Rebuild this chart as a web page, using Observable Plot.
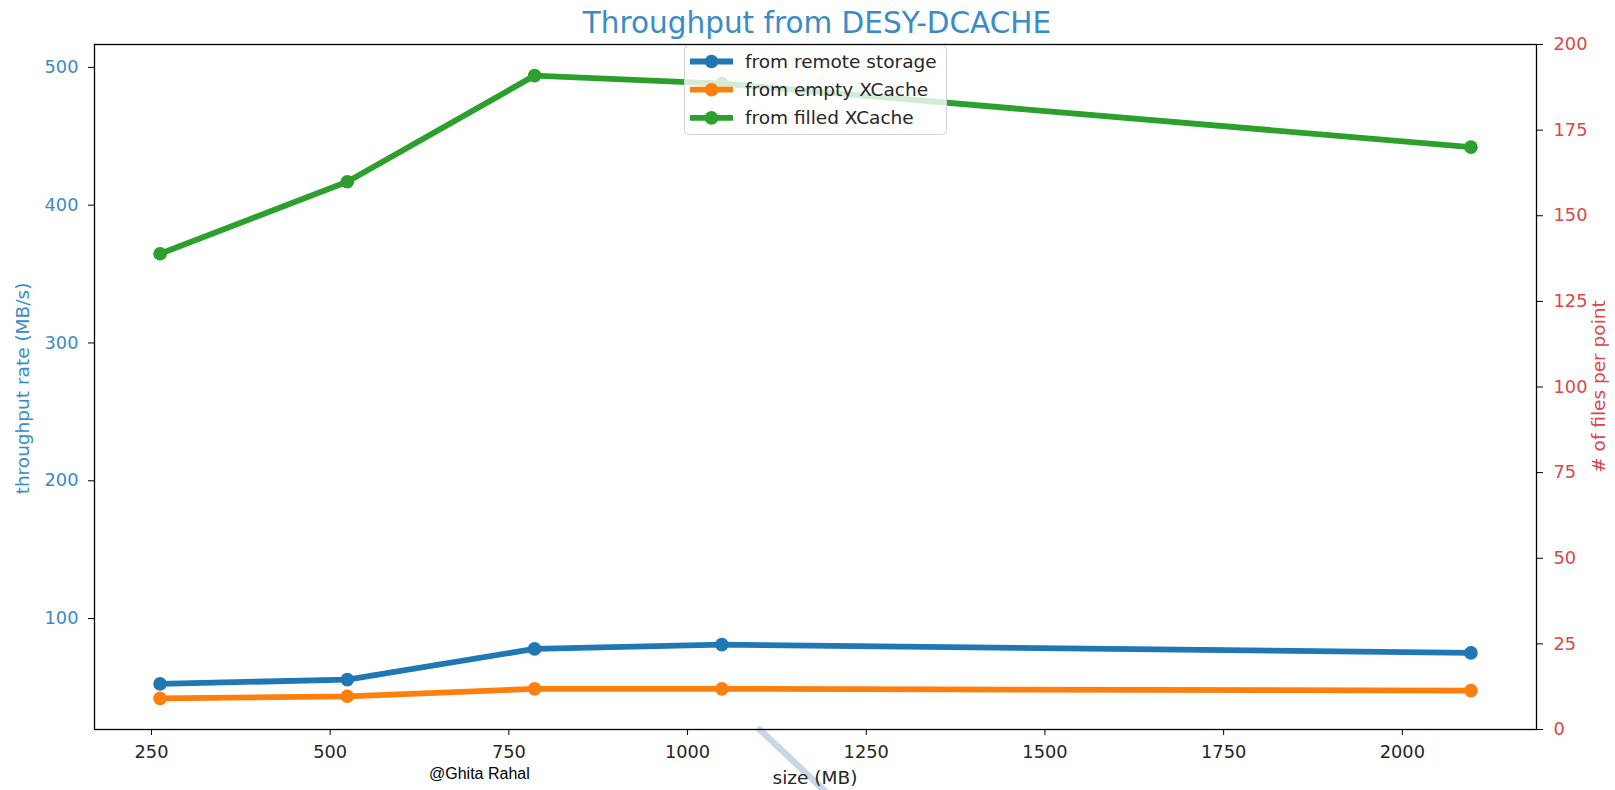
<!DOCTYPE html>
<html><head><meta charset="utf-8">
<script src="https://cdn.jsdelivr.net/npm/d3@7"></script>
<script src="https://cdn.jsdelivr.net/npm/@observablehq/plot@0.6"></script>
<style>body{margin:0;background:#fff;overflow:hidden;}</style>
</head><body><div id="chart"></div>
<script>
// ---- data ----
const sizes = [262, 524, 786, 1048, 2096];
const remote = [52.6, 55.7, 78.0, 81.1, 75.1];
const emptyCache = [42.1, 43.6, 49.0, 49.0, 47.7];
const filledCache = [364.7, 417.0, 494.0, 488.2, 442.1];
const seriesNames = ["from remote storage", "from empty XCache", "from filled XCache"];
const seriesColors = ["#1f77b4", "#ff7f0e", "#2ca02c"];
const xTicks = [250, 500, 750, 1000, 1250, 1500, 1750, 2000];
const yTicks = [100, 200, 300, 400, 500];
const rightTicks = [0, 25, 50, 75, 100, 125, 150, 175, 200];
const rightMax = 200;
const artifactX = [1101, 1198];
const artifactY = [19.5, -28];

const titleText = "Throughput from DESY-DCACHE";
const xLabel = "size (MB)";
const yLabel = "throughput rate (MB/s)";
const y2Label = "# of files per point";
const credit = "@Ghita Rahal";

const blue = "#3a8bc6", red = "#e0454a";

// ---- build ----
const values = [remote, emptyCache, filledCache];
const rows = seriesNames.flatMap((name, i) => sizes.map((s, j) => ({size: s, value: values[i][j], series: name})));
const all = values.flat();
const lo = d3.min(all), hi = d3.max(all), pad = (hi - lo) * 0.05;
const y0 = lo - pad, y1 = hi + pad;
const xpad = (d3.max(sizes) - d3.min(sizes)) * 0.05;
const x0 = d3.min(sizes) - xpad, x1 = d3.max(sizes) + xpad;
const rightMapped = rightTicks.map(v => y0 + v / rightMax * (y1 - y0));
const artifact = artifactX.map((x, i) => ({x, y: artifactY[i]}));

const W = 1615, H = 790, mL = 94, mR = 79, mT = 44, mB = 61;

const marks = [
  Plot.line(artifact, {x: "x", y: "y", stroke: "#c9d6e9", strokeWidth: 6.5, clip: false})
];
seriesNames.forEach((name, i) => {
  const d = rows.filter(r => r.series === name);
  marks.push(Plot.line(d, {x: "size", y: "value", stroke: seriesColors[i], strokeWidth: 5.8, strokeLinejoin: "round"}));
  marks.push(Plot.dot(d, {x: "size", y: "value", fill: seriesColors[i], r: 6.8}));
});
marks.push(
  Plot.frame({stroke: "black", strokeWidth: 1.3}),
  Plot.axisX(xTicks, {anchor: "bottom", tickSize: 6, tickPadding: 10, fill: "#262626", stroke: "black", label: null,
    tickFormat: d => String(d)}),
  Plot.axisY(yTicks, {anchor: "left", tickSize: 6, tickPadding: 10, fill: blue, stroke: "black", label: null,
    tickFormat: d => String(d)}),
  Plot.axisY(rightMapped, {anchor: "right", tickSize: 6, tickPadding: 11, fill: red, stroke: "black", label: null,
    tickFormat: v => String(Math.round((v - y0) / (y1 - y0) * rightMax))})
);

const chart = Plot.plot({
  width: W, height: H,
  marginLeft: mL, marginRight: mR, marginTop: mT, marginBottom: mB,
  x: {domain: [x0, x1], axis: null},
  y: {domain: [y0, y1], axis: null},
  style: {fontFamily: "'DejaVu Sans', sans-serif", fontSize: "17.8px", background: "white", overflow: "visible"},
  marks
});
document.getElementById("chart").appendChild(chart);

// ---- texts and legend ----
const svg = d3.select(chart);
svg.append("text").attr("x", 817).attr("y", 33).attr("text-anchor", "middle")
  .attr("fill", blue).style("font-size", "29.5px").text(titleText);
svg.append("text").attr("x", 815).attr("y", 784).attr("text-anchor", "middle")
  .attr("fill", "#262626").style("font-size", "18.5px").text(xLabel);
svg.append("text").attr("transform", `translate(29,${(mT + H - mB) / 2 + 2}) rotate(-90)`).attr("text-anchor", "middle")
  .attr("fill", blue).style("font-size", "18.5px").text(yLabel);
svg.append("text").attr("transform", `translate(1605,${(mT + H - mB) / 2}) rotate(-90)`).attr("text-anchor", "middle")
  .attr("fill", red).style("font-size", "18.5px").text(y2Label);
svg.append("text").attr("x", 429).attr("y", 779).attr("text-anchor", "start")
  .attr("fill", "black").style("font-family", "'Liberation Sans', Arial, sans-serif").style("font-size", "16px").text(credit);

const lg = svg.append("g");
lg.append("rect").attr("x", 684.5).attr("y", 45.5).attr("width", 262).attr("height", 89).attr("rx", 4)
  .attr("fill", "white").attr("fill-opacity", 0.8).attr("stroke", "#d3d3d3");
seriesNames.forEach((name, i) => {
  const cy = 61.5 + i * 28.2;
  lg.append("line").attr("x1", 690).attr("x2", 733).attr("y1", cy).attr("y2", cy)
    .attr("stroke", seriesColors[i]).attr("stroke-width", 5.8);
  lg.append("circle").attr("cx", 711.5).attr("cy", cy).attr("r", 6.8).attr("fill", seriesColors[i]);
  lg.append("text").attr("x", 745).attr("y", cy).attr("dy", "0.35em").attr("text-anchor", "start")
    .attr("fill", "#262626").style("font-size", "18.5px").text(name);
});
</script>
</body></html>
